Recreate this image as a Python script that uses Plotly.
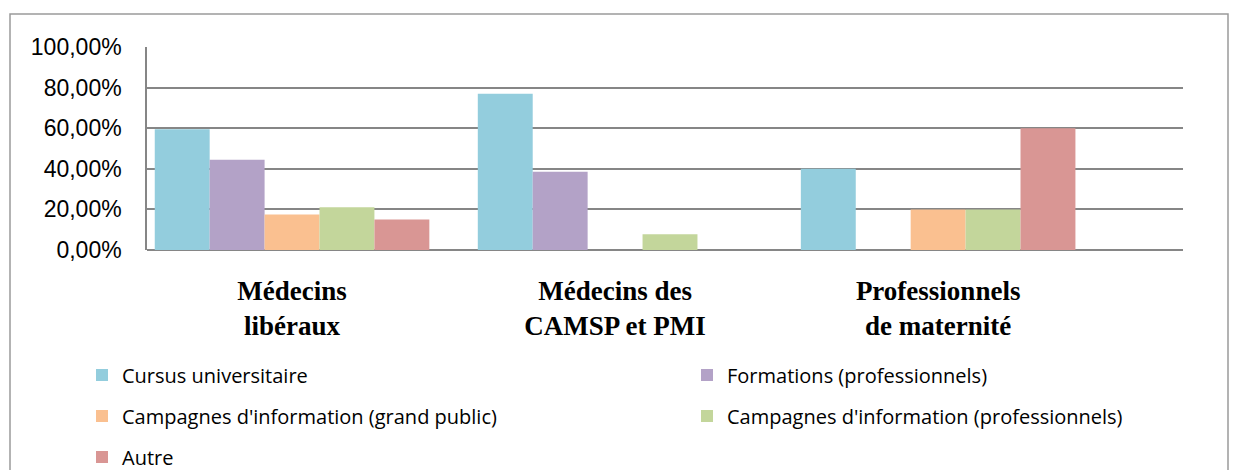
import plotly.graph_objects as go

# categories (x) and their display labels
categories = ["Médecins libéraux", "Médecins des CAMSP et PMI", "Professionnels de maternité"]
tick_labels = ["Médecins<br>libéraux", "Médecins des<br>CAMSP et PMI", "Professionnels<br>de maternité"]

# share of answers per source of information
cursus = [0.595, 0.77, 0.40]
formations = [0.445, 0.385, 0.0]
campagnes_public = [0.175, 0.0, 0.20]
campagnes_pro = [0.21, 0.077, 0.20]
autre = [0.15, 0.0, 0.60]

series_names = ["Cursus universitaire", "Formations (professionnels)",
                "Campagnes d'information (grand public)",
                "Campagnes d'information (professionnels)", "Autre"]
series_values = [cursus, formations, campagnes_public, campagnes_pro, autre]
colors = ["#93CDDD", "#B3A2C7", "#FAC090", "#C3D69B", "#D99694"]

# the page has an 8px body margin, so work in screenshot pixels and shift
OFF = 8
W, H = 1242 - OFF, 470 - OFF
L, R, T, B = 147 - OFF, 1183 - OFF, 47 - OFF, 250 - OFF

def px_x(p):
    return (p - OFF - L) / (R - L)

def px_y(p):
    return (B - (p - OFF)) / (B - T)

# legend slot (text left x, row centre y) in screenshot pixels, one legend per entry
legend_slots = [(122, 375), (727, 375), (122, 416), (727, 416), (122, 457)]
legend_ids = ["legend", "legend2", "legend3", "legend4", "legend5"]

fig = go.Figure()
for name, vals, color, leg in zip(series_names, series_values, colors, legend_ids):
    fig.add_trace(go.Bar(
        x=categories, y=vals, name=name, legend=leg, showlegend=True,
        marker=dict(color=color, line=dict(width=0)),
    ))

leg_font = dict(family="Open Sans", size=20, color="#000000")
legends = {}
for leg, (sx, sy) in zip(legend_ids, legend_slots):
    legends[leg] = dict(
        orientation="h", xanchor="left", yanchor="middle",
        xref="container", yref="container",
        x=(sx - 40 - OFF) / W, y=1 - (sy - OFF) / H,
        font=leg_font, bgcolor="rgba(0,0,0,0)", itemclick=False,
    )

fig.update_layout(
    width=W, height=H,
    showlegend=True,
    margin=dict(l=L, r=W - R, t=T, b=H - B, autoexpand=False),
    paper_bgcolor="white", plot_bgcolor="white",
    separators=", ",
    barmode="group", bargap=0.15, bargroupgap=0,
    font=dict(family="Liberation Sans", color="#000000"),
    xaxis=dict(
        tickvals=categories, ticktext=tick_labels,
        range=[-0.449, 2.758], automargin=False,
        showgrid=False, zeroline=False, showline=False, ticks="",
        ticklabelstandoff=22,
        tickfont=dict(family="Liberation Serif", size=27, color="#000000", weight="bold"),
    ),
    yaxis=dict(
        range=[0, 1], dtick=0.2, tickformat=".2%", automargin=False,
        showgrid=True, gridcolor="#868686", gridwidth=1.5,
        zeroline=True, zerolinecolor="#868686", zerolinewidth=1.5,
        showline=True, linecolor="#868686", linewidth=1.5,
        ticks="", ticklabelstandoff=19,
        tickfont=dict(family="Liberation Sans", size=23, color="#000000"),
    ),
    shapes=[dict(
        type="rect", xref="paper", yref="paper",
        x0=px_x(10), x1=px_x(1228), y0=px_y(490), y1=px_y(14),
        line=dict(color="#9A9A9A", width=1.5), layer="below",
    )],
    **legends,
)

fig.write_html("out.html")
